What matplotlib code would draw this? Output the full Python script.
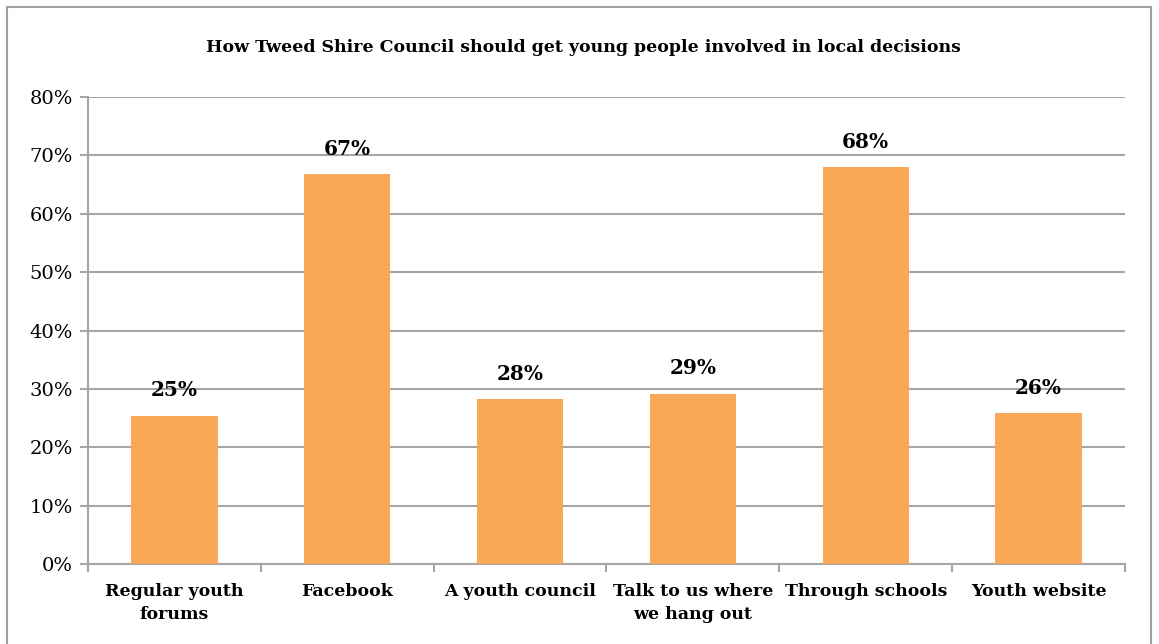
import matplotlib
matplotlib.use("Agg")
import matplotlib.pyplot as plt
from matplotlib.patches import Rectangle
from matplotlib.ticker import FuncFormatter, MultipleLocator

categories = ["Regular youth\nforums", "Facebook", "A youth council",
              "Talk to us where\nwe hang out", "Through schools", "Youth website"]
values = [25.4, 66.8, 28.3, 29.2, 68.0, 25.8]
labels = ["25%", "67%", "28%", "29%", "68%", "26%"]
title = "How Tweed Shire Council should get young people involved in local decisions"

plt.rcParams['font.family'] = ['DejaVu Serif']

W, H = 1159, 644
fig = plt.figure(figsize=(W/100, H/100), dpi=100)
ax = fig.add_axes([88/W, 1-564/H, (1125-88)/W, (564-97)/H])

grid_c = "#A6A6A6"
bar_c = "#F9A857"
x = list(range(len(categories)))
ax.bar(x, values, width=0.5, color=bar_c, zorder=3)
for xi, v, l in zip(x, values, labels):
    ax.annotate(l, (xi, v), xytext=(0, 11), textcoords="offset points",
                ha="center", va="bottom", fontsize=14.5, fontweight="bold", zorder=4)

ax.set_xlim(-0.5, len(categories)-0.5)
ax.set_ylim(0, 80)
ax.yaxis.set_major_locator(MultipleLocator(10))
ax.yaxis.set_major_formatter(FuncFormatter(lambda v, p: f"{int(v)}%"))
ax.grid(axis="y", color=grid_c, linewidth=1.5, zorder=0)
ax.set_axisbelow(True)

ax.set_xticks(x)
ax.set_xticklabels(categories, fontsize=12.5, fontweight="bold", linespacing=1.45)
ax.tick_params(axis="x", length=0, pad=14)
ax.set_xticks([i - 0.5 for i in range(len(categories)+1)], minor=True)
ax.tick_params(axis="x", which="minor", length=6, width=1.5, color=grid_c)
ax.tick_params(axis="y", length=6, width=1.5, color=grid_c, labelsize=14, pad=5)

for s in ["top", "right"]:
    ax.spines[s].set_visible(False)
for s in ["left", "bottom"]:
    ax.spines[s].set_color(grid_c)
    ax.spines[s].set_linewidth(1.5)

fig.text(583/W, 1-47/H, title, ha="center", va="center", fontsize=12.5, fontweight="bold")

fig.patches.append(Rectangle((7/W, -0.05), (1151-7)/W, 1.05 - 7/H, transform=fig.transFigure,
                             fill=False, edgecolor="#A0A0A0", linewidth=1.5))

fig.savefig("out.png", dpi=100)
